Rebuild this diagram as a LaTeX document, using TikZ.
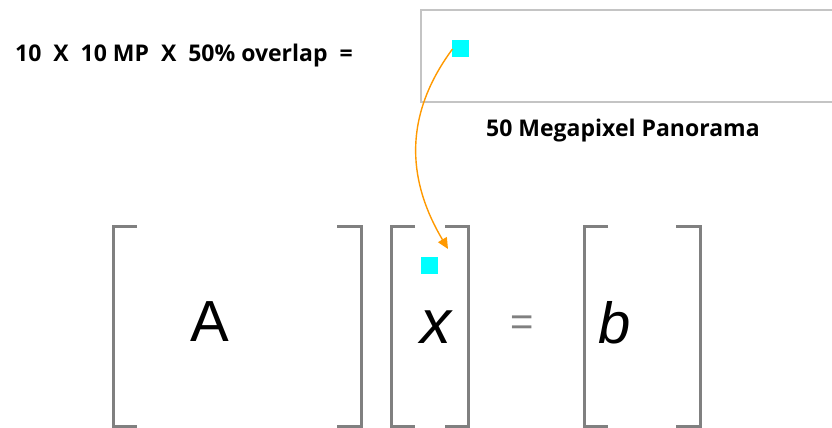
\documentclass[tikz,border=0pt]{standalone}
\usepackage{fontspec}
\setmainfont{Liberation Sans}
\newfontfamily\labfont{Open Sans}
\usetikzlibrary{arrows.meta}
\definecolor{brk}{HTML}{808080}
\definecolor{boxgray}{HTML}{C4C4C4}
\definecolor{cyanpx}{HTML}{00FFFF}
\definecolor{arrorange}{HTML}{FF9900}
\tikzset{
  brack/.style={draw=brk, line width=3pt},
  pixel/.style={fill=cyanpx, draw=none, minimum size=17pt, inner sep=0pt, outer sep=0pt},
  lab/.style={font=\labfont\bfseries\fontsize{23}{26}\selectfont, inner sep=0pt},
  big/.style={font=\fontsize{58}{60}\selectfont, inner sep=0pt},
}
\begin{document}
\begin{tikzpicture}[x=1pt,y=-1pt]
\useasboundingbox (0,0) rectangle (832,428);
% top equation text
\node[lab, anchor=west] (eq) at (15,56) {10\ \ X\ \ 10 MP\ \ X\ \ 50\% overlap\ \ =};
% panorama box
\draw[boxgray, line width=2.5pt] (840,10) -- (421,10) -- (421,102) -- (840,102);
\node[pixel] (p1) at (460.5,48.5) {};
\node[lab, anchor=west] (pano) at (486,131) {50 Megapixel Panorama};
% matrix A brackets
\draw[brack] (137,226) -- (113,226) -- (113,426) -- (137,426);
\draw[brack] (337,226) -- (361,226) -- (361,426) -- (337,426);
\node[big] (A) at (210,322) {A};
% vector x brackets
\draw[brack] (415,226) -- (391,226) -- (391,426) -- (415,426);
\draw[brack] (445,226) -- (468,226) -- (468,426) -- (445,426);
\node[pixel] (p2) at (429.5,265) {};
\node[big, anchor=base, font=\fontsize{62}{62}\selectfont] (x) at (436,343) {\itshape x};
% equals
\node[big, text=brk, font=\fontsize{40}{40}\selectfont] (eqs) at (522,326) {=};
% vector b brackets
\draw[brack] (608,226) -- (584,226) -- (584,426) -- (608,426);
\draw[brack] (676,226) -- (700,226) -- (700,426) -- (676,426);
\node[big, anchor=base] (b) at (615,343) {\itshape b};
% arrow
\coordinate (tip) at (448,249);
\draw[arrorange, line width=1.4pt, -{Triangle[length=11pt,width=10pt]}]
  ([xshift=-8pt,yshift=8pt]p1.south) .. controls (400,120) and (410,185) .. (tip);
\end{tikzpicture}
\end{document}
